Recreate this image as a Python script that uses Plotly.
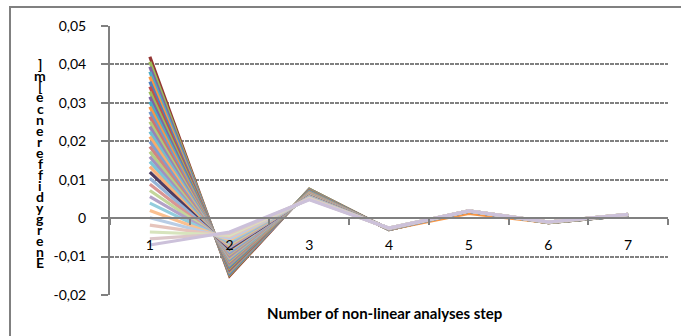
import plotly.graph_objects as go

# ---- data ----
steps = ["1", "2", "3", "4", "5", "6", "7"]

step1 = [0.0420, 0.0407, 0.0394, 0.0381, 0.0368, 0.0355, 0.0342, 0.0329, 0.0316, 0.0303,
         0.0290, 0.0277, 0.0264, 0.0251, 0.0238, 0.0225, 0.0212, 0.0199, 0.0186, 0.0173,
         0.0160, 0.0147, 0.0134, 0.0120, 0.0104, 0.0088, 0.0072, 0.0056, 0.0039, 0.0020,
         0.0001, -0.0018, -0.0036, -0.0054, -0.0070]
step2 = [-0.0150, -0.0147, -0.0144, -0.0141, -0.0138, -0.0135, -0.0132, -0.0129, -0.0126, -0.0123,
         -0.0120, -0.0117, -0.0114, -0.0111, -0.0108, -0.0105, -0.0102, -0.0099, -0.0096, -0.0093,
         -0.0090, -0.0086, -0.0083, -0.0080, -0.0076, -0.0073, -0.0069, -0.0065, -0.0061, -0.0057,
         -0.0053, -0.0048, -0.0044, -0.0040, -0.0036]
step3 = [0.0075, 0.0075, 0.0074, 0.0073, 0.0072, 0.0071, 0.0071, 0.0070, 0.0069, 0.0068,
         0.0067, 0.0067, 0.0066, 0.0065, 0.0064, 0.0063, 0.0063, 0.0062, 0.0061, 0.0060,
         0.0059, 0.0059, 0.0058, 0.0057, 0.0056, 0.0055, 0.0055, 0.0054, 0.0053, 0.0052,
         0.0051, 0.0051, 0.0050, 0.0049, 0.0048]
step4 = [-0.0030, -0.0030, -0.0030, -0.0030, -0.0030, -0.0029, -0.0029, -0.0029, -0.0029, -0.0029,
         -0.0029, -0.0029, -0.0028, -0.0028, -0.0028, -0.0028, -0.0028, -0.0028, -0.0028, -0.0028,
         -0.0027, -0.0027, -0.0027, -0.0027, -0.0027, -0.0027, -0.0027, -0.0027, -0.0026, -0.0026,
         -0.0026, -0.0026, -0.0026, -0.0026, -0.0026]
step5 = [0.0019, 0.0019, 0.0019, 0.0019, 0.0019, 0.0018, 0.0018, 0.0018, 0.0018, 0.0018,
         0.0012, 0.0018, 0.0018, 0.0018, 0.0018, 0.0018, 0.0018, 0.0018, 0.0018, 0.0018,
         0.0018, 0.0018, 0.0018, 0.0018, 0.0018, 0.0019, 0.0019, 0.0019, 0.0019, 0.0019,
         0.0019, 0.0019, 0.0019, 0.0019, 0.0019]
step6 = [-0.0012, -0.0012, -0.0012, -0.0012, -0.0012, -0.0011, -0.0011, -0.0011, -0.0011, -0.0011,
         -0.0011, -0.0011, -0.0011, -0.0011, -0.0011, -0.0011, -0.0011, -0.0011, -0.0011, -0.0011,
         -0.0010, -0.0010, -0.0010, -0.0010, -0.0010, -0.0010, -0.0010, -0.0010, -0.0010, -0.0010,
         -0.0010, -0.0010, -0.0010, -0.0010, -0.0010]
step7 = [0.0008, 0.0008, 0.0008, 0.0008, 0.0008, 0.0008, 0.0008, 0.0008, 0.0008, 0.0008,
         0.0009, 0.0009, 0.0009, 0.0009, 0.0009, 0.0009, 0.0009, 0.0009, 0.0009, 0.0009,
         0.0009, 0.0009, 0.0009, 0.0009, 0.0009, 0.0010, 0.0010, 0.0010, 0.0010, 0.0010,
         0.0010, 0.0010, 0.0010, 0.0010, 0.0010]

ytick_vals = [-0.02, -0.01, 0.0, 0.01, 0.02, 0.03, 0.04, 0.05]
ytick_text = ["-0,02", "-0,01", "0", "0,01", "0,02", "0,03", "0,04", "0,05"]

x_title = "Number of non-linear analyses step"
y_title = "Energy difference [m]"

# ---- style ----
colors = ["#943634", "#9BBB59", "#8064A2", "#4BACC6", "#F79646", "#4F81BD", "#C0504D",
          "#9BBB59", "#8064A2", "#4BACC6", "#F79646", "#729ACA", "#CD7371", "#AFC97A",
          "#9983B5", "#6FBDD1", "#F9AB6B", "#7F9FCF", "#D08482", "#B5CC86", "#A391BE",
          "#7CC4D6", "#F8B079", "#4D3B62", "#95B3D7", "#D99694", "#C3D69B", "#B3A2C7",
          "#93CDDD", "#FAC090", "#B9CDE5", "#E6C4BC", "#D7E4BD", "#DCC7C9", "#CCC1DA"]
GRAY = "#808080"
FONT = "Lato"

fig = go.Figure()
for i in range(len(step1)):
    ys = [step1[i], step2[i], step3[i], step4[i], step5[i], step6[i], step7[i]]
    fig.add_trace(go.Scatter(x=steps, y=ys, mode="lines",
                             line=dict(color=colors[i % len(colors)], width=3.2),
                             showlegend=False, hoverinfo="skip"))

ML, MR, MT, MB = 110, 13, 26, 41
W, H = 681, 336
pw, ph = W - ML - MR, H - MT - MB


def px_x(p):
    return (p - ML) / pw


def px_y(p):
    return (H - MB - p) / ph


fig.update_layout(
    width=W, height=H,
    margin=dict(l=ML, r=MR, t=MT, b=MB),
    paper_bgcolor="white", plot_bgcolor="white",
    font=dict(family=FONT, size=14, color="black"),
    showlegend=False,
    xaxis=dict(type="category", anchor="free", position=0.02 / 0.07,
               range=[-0.5, len(steps) - 0.5],
               showline=True, linecolor=GRAY, linewidth=2,
               ticks="outside", tickson="boundaries", ticklen=6, tickwidth=2,
               tickcolor=GRAY, showgrid=False, zeroline=False,
               ticklabelstandoff=14, tickfont=dict(family=FONT, size=14)),
    yaxis=dict(range=[-0.02, 0.05], tickvals=ytick_vals, ticktext=ytick_text,
               showline=True, linecolor=GRAY, linewidth=2,
               ticks="outside", ticklen=7, tickwidth=2, tickcolor=GRAY,
               showgrid=True, gridcolor=GRAY, gridwidth=2, griddash="4px,1px",
               zeroline=False, ticklabelstandoff=12,
               tickfont=dict(family=FONT, size=14)),
)

# outer chart border
fig.add_shape(type="rect", xref="paper", yref="paper",
              x0=px_x(10), x1=px_x(700), y0=px_y(350), y1=px_y(7),
              line=dict(color=GRAY, width=2), fillcolor="rgba(0,0,0,0)", layer="below")

# x title
fig.add_annotation(text="<b>%s</b>" % x_title, xref="paper", yref="paper",
                   x=px_x(384), y=px_y(313), xanchor="center", yanchor="middle",
                   showarrow=False, font=dict(family=FONT, size=15, color="black"))

# y title: letters stacked (upright), first letter at the bottom
letters = [c for c in y_title if c != " "]
n = len(letters)
top_px, bot_px = 64, 262
for k, ch in enumerate(letters):
    yp = bot_px - (bot_px - top_px) * k / (n - 1)
    fig.add_annotation(text="<b>%s</b>" % ch, xref="paper", yref="paper",
                       x=px_x(40), y=px_y(yp), xanchor="center", yanchor="middle",
                       showarrow=False, font=dict(family=FONT, size=14, color="black"))

fig.write_html("out.html")
